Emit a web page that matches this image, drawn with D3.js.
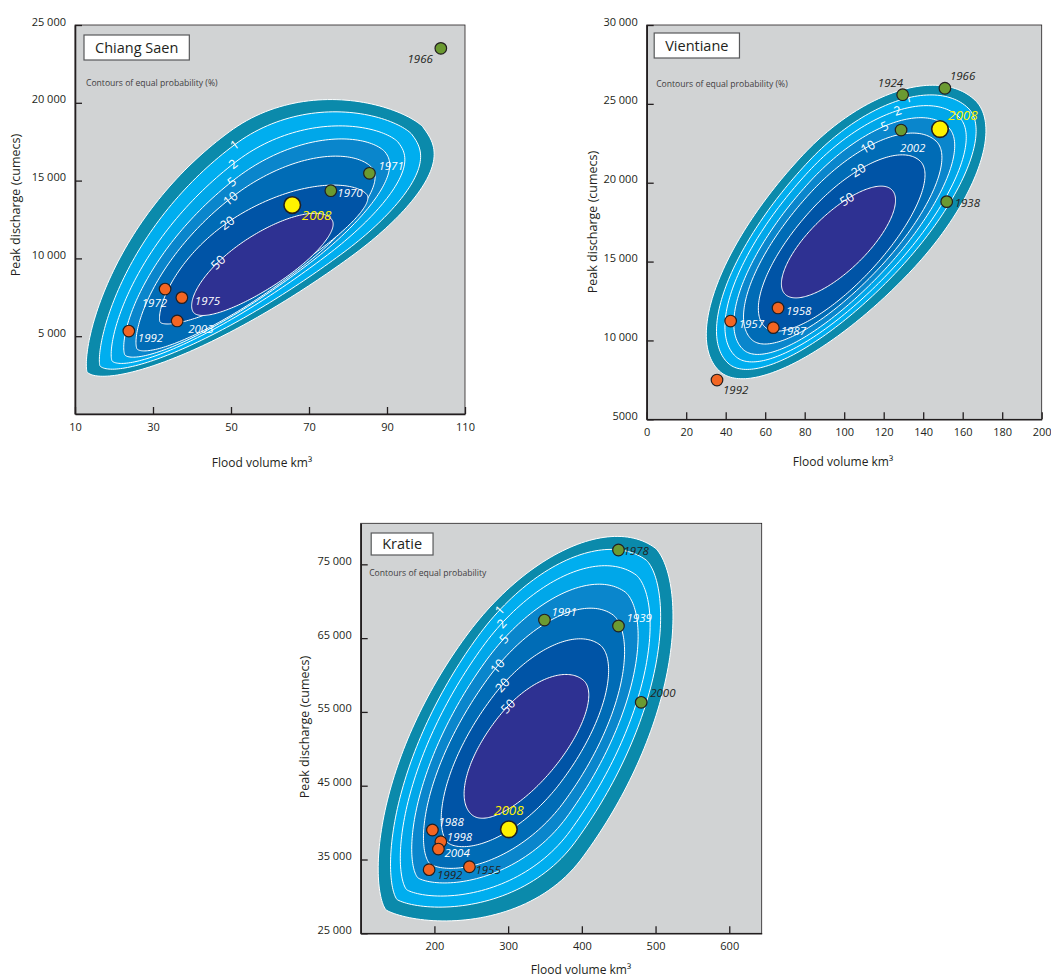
<!DOCTYPE html>
<html>
<head>
<meta charset="utf-8">
<script src="https://cdn.jsdelivr.net/npm/d3@7"></script>
<style>
  body { margin: 0; background: #fff; }
  svg { display: block; }
  text { font-family: "Open Sans", sans-serif; }
</style>
</head>
<body>
<div class="svg-container"></div>
<script>
// ---------- data ----------
const levels = ["", "1", "2", "5", "10", "20", "50"]; // first ring = outer edge, no label

// Chiang Saen
const csYears  = ["1966", "1971", "1970", "2008", "1972", "1975", "2003", "1992"];
const csKind   = ["high", "high", "high", "now", "low", "low", "low", "low"];
const csVolume = [103.8, 85.5, 75.6, 65.7, 33.1, 37.4, 36.2, 23.8];
const csPeak   = [23500, 15470, 14350, 13430, 8030, 7480, 5980, 5330];
const csRingLow  = [[13.1, 2700], [16.4, 3090], [19.5, 3410], [22.8, 3790], [25.9, 4180], [31.8, 5910], [40.3, 6560]];
const csRingHigh = [[99.2, 18450], [96.3, 17990], [92.8, 17480], [89.5, 16840], [86.2, 15810], [84.9, 14080], [75.9, 12470]];
const csRingShape = [[.62, .265, .68, .15], [.62, .25, .68, .14], [.61, .23, .66, .13], [.59, .215, .63, .125], [.57, .21, .60, .12], [.50, .205, .50, .10], [.50, .185, .52, .135]];
const csRingSharp = [[.8, .72, .6, .34], [.8, .7, .6, .36], [.76, .68, .6, .38], [.72, .62, .6, .43], [.72, .58, .6, .47], [.72, .62, .6, .5], [.55, .5, .5, .5]];
const csXTicks = [10, 30, 50, 70, 90, 110];
const csXTickLabels = ["10", "30", "50", "70", "90", "110"];
const csYTicks = [5000, 10000, 15000, 20000, 25000];
const csYTickLabels = ["5 000", "10 000", "15 000", "20 000", "25 000"];

// Vientiane
const vtYears  = ["1924", "1966", "2008", "2002", "1938", "1958", "1957", "1987", "1992"];
const vtKind   = ["high", "high", "now", "high", "high", "low", "low", "low", "low"];
const vtVolume = [129.6, 151.0, 148.5, 128.8, 151.9, 66.5, 42.5, 64.1, 35.6];
const vtPeak   = [25580, 25990, 23400, 23340, 18800, 12060, 11230, 10810, 7490];
const vtRingLow  = [[36.8, 8060], [41.2, 8560], [45.0, 8990], [48.9, 9420], [53.2, 10050], [59.9, 10850], [70.0, 12940]];
const vtRingHigh = [[166.2, 25240], [162.7, 24740], [158.1, 24170], [152.6, 23530], [146.5, 22640], [138.4, 21380], [124.2, 19540]];
const vtRingShape = [[.58, .235, .55, .19], [.58, .227, .52, .172], [.57, .222, .52, .168], [.56, .214, .52, .165], [.55, .21, .52, .165], [.53, .203, .50, .17], [.50, .19, .50, .19]];
const vtRingSharp = [[.5, .5, .5, .5], [.5, .5, .5, .5], [.5, .5, .5, .5], [.5, .5, .5, .5], [.5, .5, .5, .5], [.5, .5, .5, .5], [.5, .5, .5, .5]];
const vtXTicks = [0, 20, 40, 60, 80, 100, 120, 140, 160, 180, 200];
const vtXTickLabels = ["0", "20", "40", "60", "80", "100", "120", "140", "160", "180", "200"];
const vtYTicks = [5000, 10000, 15000, 20000, 25000, 30000];
const vtYTickLabels = ["5000", "10 000", "15 000", "20 000", "25 000", "30 000"];

// Kratie
const krYears  = ["1978", "1991", "1939", "2000", "2008", "1988", "1998", "2004", "1992", "1955"];
const krKind   = ["high", "high", "high", "high", "now", "low", "low", "low", "low", "low"];
const krVolume = [449.7, 349.3, 449.7, 480.5, 301, 197.3, 208.7, 205.4, 192.8, 247.5];
const krPeak   = [76940, 67450, 66640, 56300, 39090, 39000, 37410, 36420, 33620, 34020];
const krRingLow  = [[134.5, 28160], [149.5, 29560], [162.5, 30900], [177.8, 32500], [194.2, 34390], [218.6, 37240], [251.2, 41030]];
const krRingHigh = [[499.5, 77210], [487.2, 75580], [473.7, 73550], [458.8, 71250], [442.5, 68130], [424.8, 64070], [401.8, 59320]];
const krRingShape = [[.60, .22, .35, .28], [.62, .215, .36, .26], [.62, .21, .37, .25], [.61, .205, .39, .24], [.60, .205, .42, .23], [.58, .215, .46, .21], [.55, .24, .50, .19]];
const krRingSharp = [[.72, .5, .72, .65], [.72, .5, .72, .65], [.7, .5, .7, .62], [.68, .5, .68, .6], [.64, .5, .64, .58], [.6, .5, .58, .55], [.5, .5, .5, .5]];
const krXTicks = [200, 300, 400, 500, 600];
const krXTickLabels = ["200", "300", "400", "500", "600"];
const krYTicks = [25000, 35000, 45000, 55000, 65000, 75000];
const krYTickLabels = ["25 000", "35 000", "45 000", "55 000", "65 000", "75 000"];

// ---------- layout ----------
const bandColors = ["#0b8aab", "#00aeef", "#00a7e9", "#0a86cc", "#006cb6", "#0054a6", "#2e3192"];
const dotColors = { high: "#6b9a31", low: "#f26522", now: "#fff200" };
const ink = "#231f20";

const panels = [
  {
    name: "Chiang Saen", note: "Contours of equal probability (%)",
    box: { l: 75, t: 25, r: 465, b: 414 }, xDomain: [10, 110], yDomain: [0, 25000],
    years: csYears, kind: csKind, vol: csVolume, peak: csPeak,
    low: csRingLow, high: csRingHigh, shape: csRingShape, sharp: csRingSharp,
    xTicks: csXTicks, xLabels: csXTickLabels, yTicks: csYTicks, yLabels: csYTickLabels,
    guide: [[51.3, 18500], [49.5, 12790], [45.6, 8600]],
    yTitle: [16, 205], xTitle: [262, 467], note0: [11, 61], tag: [9, 10, 25],
    offs: { "1966": [-8, 15, "end"], "1971": [9, -3], "1970": [6.5, 6], "2008": [9.5, 15], "1972": [2, 17.5, "end"], "1975": [13, 7.5], "2003": [11, 12], "1992": [9, 10.5] },
    dark: ["1966"]
  },
  {
    name: "Vientiane", note: "Contours of equal probability (%)",
    box: { l: 646.7, t: 25, r: 1041.7, b: 419.3 }, xDomain: [0, 200], yDomain: [5000, 30000],
    years: vtYears, kind: vtKind, vol: vtVolume, peak: vtPeak,
    low: vtRingLow, high: vtRingHigh, shape: vtRingShape, sharp: vtRingSharp,
    xTicks: vtXTicks, xLabels: vtXTickLabels, yTicks: vtYTicks, yLabels: vtYTickLabels,
    guide: [[140.5, 26600], [112.1, 22330], [98.9, 18200]],
    yTitle: [593, 222], xTitle: [843, 466], note0: [9.5, 62], tag: [7.5, 8, 25],
    offs: { "1924": [0.5, -8, "end"], "1966": [5, -8], "2008": [8, -9], "2002": [-1, 21.5], "1938": [8, 5.5], "1958": [8, 7], "1957": [8, 7.3], "1987": [7.4, 7.3], "1992": [6, 14] },
    dark: ["1924", "1966", "1938", "1992"]
  },
  {
    name: "Kratie", note: "Contours of equal probability",
    box: { l: 360.7, t: 523.3, r: 761.7, b: 933.3 }, xDomain: [100, 644], yDomain: [25000, 80560],
    years: krYears, kind: krKind, vol: krVolume, peak: krPeak,
    low: krRingLow, high: krRingHigh, shape: krRingShape, sharp: krRingSharp,
    xTicks: krXTicks, xLabels: krXTickLabels, yTicks: krYTicks, yLabels: krYTickLabels,
    guide: [[285.1, 71000], [294.6, 64740], [285.1, 61360], [305.4, 53630]],
    yTitle: [305, 727], xTitle: [581, 974], note0: [8.5, 52.5], tag: [10.5, 9.7, 22],
    offs: { "1978": [5, 5], "1991": [7, -4], "1939": [8, -4], "2000": [9, -5], "2008": [0, -14, "middle"], "1988": [6, -4], "1998": [6, -1], "2004": [6, 8], "1992": [8, 9], "1955": [6, 7] },
    dark: ["1978", "2000", "1992", "1955"]
  }
];

const svg = d3.select(".svg-container").append("svg")
  .attr("width", 1051).attr("height", 979);

// egg-like closed contour: two side profiles between the low and high tips.
// profile v = w * (1 - r^2)^a : a = 0.5 is an ellipse, larger a is more pointed
function ring(lowPt, highPt, shape, sharp, x, y) {
  const L = [x(lowPt[0]), y(lowPt[1])], U = [x(highPt[0]), y(highPt[1])];
  const len = Math.hypot(U[0] - L[0], U[1] - L[1]);
  const d = [(U[0] - L[0]) / len, (U[1] - L[1]) / len];
  const nrm = [d[1], -d[0]]; // points to the upper-left side
  const N = 120;
  function side(f, w, sign, aLo, aHi) {
    const pts = [], c = f * len;
    for (let k = 0; k <= N; k++) {
      const u = len * (1 - Math.cos(Math.PI * k / N)) / 2;
      let r, a;
      if (u < c) { r = (c - u) / c; a = aLo; } else { r = (u - c) / (len - c); a = aHi; }
      const v = w * len * Math.pow(Math.max(0, 1 - r * r), a);
      pts.push([L[0] + u * d[0] + sign * v * nrm[0], L[1] + u * d[1] + sign * v * nrm[1]]);
    }
    return pts;
  }
  const upper = side(shape[0], shape[1], 1, sharp[0], sharp[1]);
  const lower = side(shape[2], shape[3], -1, sharp[2], sharp[3]).reverse();
  return { upper: upper, all: upper.concat(lower.slice(1, -1)) };
}

// where a contour's upper side crosses the label guide (a polyline)
function labelSpot(pts, guide) {
  for (let j = 1; j < guide.length; j++) {
    const a = guide[j - 1], b = guide[j];
    const s = [b[0] - a[0], b[1] - a[1]];
    for (let i = 1; i < pts.length; i++) {
      const p = pts[i - 1], q = pts[i];
      const r = [q[0] - p[0], q[1] - p[1]];
      const den = r[0] * s[1] - r[1] * s[0];
      if (den === 0) continue;
      const t = ((a[0] - p[0]) * s[1] - (a[1] - p[1]) * s[0]) / den;
      const u = ((a[0] - p[0]) * r[1] - (a[1] - p[1]) * r[0]) / den;
      if (t >= 0 && t <= 1 && u >= 0 && u <= 1) {
        return { x: p[0] + t * r[0], y: p[1] + t * r[1], ang: Math.atan2(r[1], r[0]) * 180 / Math.PI };
      }
    }
  }
  return null;
}

panels.forEach(P => {
  const b = P.box;
  const x = d3.scaleLinear().domain(P.xDomain).range([b.l, b.r]);
  const y = d3.scaleLinear().domain(P.yDomain).range([b.b, b.t]);
  const g = svg.append("g");

  g.append("rect").attr("x", b.l).attr("y", b.t).attr("width", b.r - b.l).attr("height", b.b - b.t)
    .attr("fill", "#d1d3d4");

  // contour bands
  const rings = P.low.map((lp, i) => ring(lp, P.high[i], P.shape[i], P.sharp[i], x, y));
  const line = d3.line();
  g.selectAll("path.band").data(rings).enter().append("path")
    .attr("class", "band")
    .attr("d", r => line(r.all) + "Z")
    .attr("fill", (r, i) => bandColors[i])
    .attr("stroke", "#fff").attr("stroke-width", 1);

  // contour labels
  const guide = P.guide.map(p => [x(p[0]), y(p[1])]);
  rings.forEach((r, i) => {
    if (!levels[i]) return;
    const s = labelSpot(r.upper, guide);
    if (!s) return;
    g.append("text")
      .attr("transform", "translate(" + s.x + "," + s.y + ") rotate(" + s.ang + ")")
      .attr("text-anchor", "middle").attr("dy", "0.36em")
      .attr("font-size", "12.5px").attr("fill", "#fff")
      .text(levels[i]);
  });

  // axes
  const ax = g.append("g").attr("transform", "translate(0," + b.b + ")")
    .call(d3.axisBottom(x).tickValues(P.xTicks).tickFormat((d, i) => P.xLabels[i])
      .tickSizeInner(-7).tickSizeOuter(0).tickPadding(9));
  const ay = g.append("g").attr("transform", "translate(" + b.l + ",0)")
    .call(d3.axisLeft(y).tickValues(P.yTicks).tickFormat((d, i) => P.yLabels[i])
      .tickSizeInner(-7).tickSizeOuter(0).tickPadding(9));
  [ax, ay].forEach(a => {
    a.selectAll("text").attr("font-size", "11px").attr("fill", ink).attr("font-family", "Open Sans, sans-serif");
    a.selectAll("line").attr("stroke", ink).attr("stroke-width", 1.3);
    a.select(".domain").attr("stroke", ink).attr("stroke-width", 1.6);
  });
  ay.selectAll("text").attr("dy", "0.0em");
  g.append("rect").attr("x", b.l).attr("y", b.t).attr("width", b.r - b.l).attr("height", b.b - b.t)
    .attr("fill", "none").attr("stroke", ink).attr("stroke-width", 0.8);

  // points
  const pts = P.years.map((yr, i) => ({ year: yr, kind: P.kind[i], v: P.vol[i], q: P.peak[i] }));
  g.selectAll("circle.pt").data(pts).enter().append("circle")
    .attr("class", "pt")
    .attr("cx", d => x(d.v)).attr("cy", d => y(d.q))
    .attr("r", d => d.kind === "now" ? 8.3 : 5.8)
    .attr("fill", d => dotColors[d.kind])
    .attr("stroke", ink).attr("stroke-width", d => d.kind === "now" ? 1.6 : 1.2);

  g.selectAll("text.yr").data(pts).enter().append("text")
    .attr("class", "yr")
    .attr("x", d => x(d.v) + P.offs[d.year][0])
    .attr("y", d => y(d.q) + P.offs[d.year][1])
    .attr("text-anchor", d => P.offs[d.year][2] || "start")
    .attr("font-style", "italic")
    .attr("font-size", d => d.kind === "now" ? "13.5px" : "11.5px")
    .attr("fill", d => d.kind === "now" ? "#fff200" : (P.dark.includes(d.year) ? ink : "#fff"))
    .text(d => d.year);

  // name tag and note
  const tag = g.append("g");
  const tagText = tag.append("text")
    .attr("x", b.l + P.tag[0] + 11).attr("y", b.t + P.tag[1] + P.tag[2] / 2)
    .attr("dy", "0.36em").attr("font-size", "14.5px").attr("fill", ink)
    .text(P.name);
  const tw = tagText.node().getComputedTextLength();
  tag.insert("rect", "text")
    .attr("x", b.l + P.tag[0]).attr("y", b.t + P.tag[1])
    .attr("width", tw + 22).attr("height", P.tag[2])
    .attr("fill", "#fff").attr("stroke", "#58595b").attr("stroke-width", 1.2);

  g.append("text").attr("x", b.l + P.note0[0]).attr("y", b.t + P.note0[1])
    .attr("font-size", "8.6px").attr("fill", "#414042").text(P.note);

  // axis titles
  g.append("text")
    .attr("transform", "translate(" + P.yTitle[0] + "," + P.yTitle[1] + ") rotate(-90)")
    .attr("text-anchor", "middle").attr("dy", "0.35em")
    .attr("font-size", "12.5px").attr("fill", ink)
    .text("Peak discharge (cumecs)");
  g.append("text")
    .attr("x", P.xTitle[0]).attr("y", P.xTitle[1])
    .attr("text-anchor", "middle")
    .attr("font-size", "12px").attr("fill", ink)
    .text("Flood volume km\u00b3");
});
</script>
</body>
</html>
